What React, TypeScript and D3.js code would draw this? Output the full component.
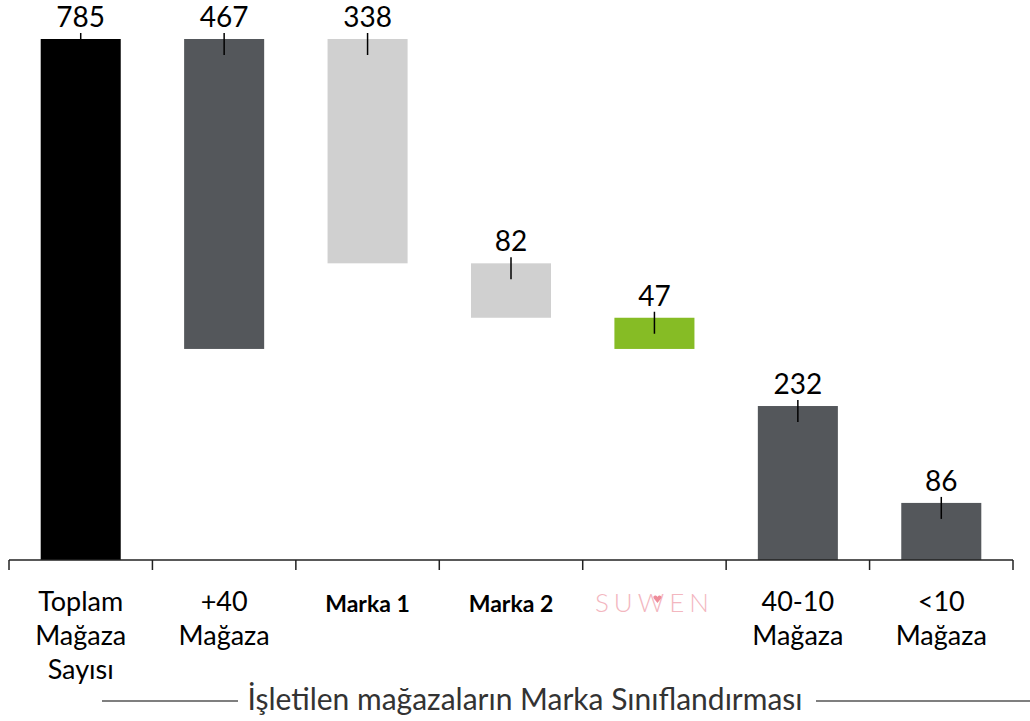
import React from "react";
import * as d3 from "d3";

const categories = ["Toplam Mağaza Sayısı", "+40 Mağaza", "Marka 1", "Marka 2", "SUWEN", "40-10 Mağaza", "<10 Mağaza"];
const labelLines = [["Toplam", "Mağaza", "Sayısı"], ["+40", "Mağaza"], ["Marka 1"], ["Marka 2"], ["SUWEN"], ["40-10", "Mağaza"], ["<10", "Mağaza"]];
const values = [785, 467, 338, 82, 47, 232, 86];
const barTops = [785, 785, 785, 447, 365, 232, 86];
const colors = ["#000000", "#54575b", "#d0d0d0", "#d0d0d0", "#86bc25", "#54575b", "#54575b"];
const labelStyles = ["normal", "normal", "bold", "bold", "logo", "normal", "normal"];
const title = "İşletilen mağazaların Marka Sınıflandırması";

const W = 1030, H = 721;
const FONT = "Lato, 'Open Sans', sans-serif";

export default function App() {
  const x = d3.scaleBand<string>().domain(categories).range([9, 1013]).paddingInner(0.442).paddingOuter(0.221);
  const y = d3.scaleLinear().domain([0, 785]).range([560, 39]);
  const step = x.step();
  return (
    <svg width={W} height={H} style={{ position: "absolute", left: 0, top: 0, background: "#fff" }}>
      {categories.map((c, i) => {
        const top = barTops[i];
        const bottom = top - values[i];
        const bx = x(c)!;
        const cx = bx + x.bandwidth() / 2;
        return (
          <g key={c}>
            <rect x={bx} y={y(top)} width={x.bandwidth()} height={y(bottom) - y(top)} fill={colors[i]} />
            <line x1={cx} x2={cx} y1={y(top) - 6} y2={y(top) + 16} stroke="#000" strokeWidth={1.5} />
            <text x={cx} y={y(top) - 12} textAnchor="middle" fontFamily={FONT} fontSize={28} fill="#000">{values[i]}</text>
          </g>
        );
      })}
      <line x1={9} x2={1013} y1={560} y2={560} stroke="#222" strokeWidth={1.5} />
      {d3.range(categories.length + 1).map((k) => {
        const tx = 9 + k * step;
        return <line key={k} x1={tx} x2={tx} y1={560} y2={570} stroke="#222" strokeWidth={1.5} />;
      })}
      {categories.map((c, i) => {
        const cx = x(c)! + x.bandwidth() / 2;
        const st = labelStyles[i];
        if (st === "logo") {
          const hx = cx + 3, hy = 598;
          return (
            <g key={c}>
              <text x={cx} y={612} textAnchor="middle" fontFamily={FONT} fontWeight={300} fontSize={26} letterSpacing={5} fill="#f3b7bf">SUWEN</text>
              <path d={`M${hx},${hy + 5} L${hx - 4},${hy} A2,2 0 0 1 ${hx},${hy - 1} A2,2 0 0 1 ${hx + 4},${hy} Z`} fill="#ee8c9a" />
            </g>
          );
        }
        return (
          <text key={c} textAnchor="middle" fontFamily={FONT} fontWeight={st === "bold" ? 700 : 400} fontSize={st === "bold" ? 23 : 27} fill="#000">
            {labelLines[i].map((l, j) => (
              <tspan key={j} x={cx} y={st === "bold" ? 612 : 611 + j * 34}>{l}</tspan>
            ))}
          </text>
        );
      })}
      <line x1={102} x2={238} y1={701} y2={701} stroke="#555" strokeWidth={1.5} />
      <line x1={816} x2={1030} y1={701} y2={701} stroke="#555" strokeWidth={1.5} />
      <text x={525} y={710} textAnchor="middle" fontFamily={FONT} fontSize={30} fill="#333">{title}</text>
    </svg>
  );
}
